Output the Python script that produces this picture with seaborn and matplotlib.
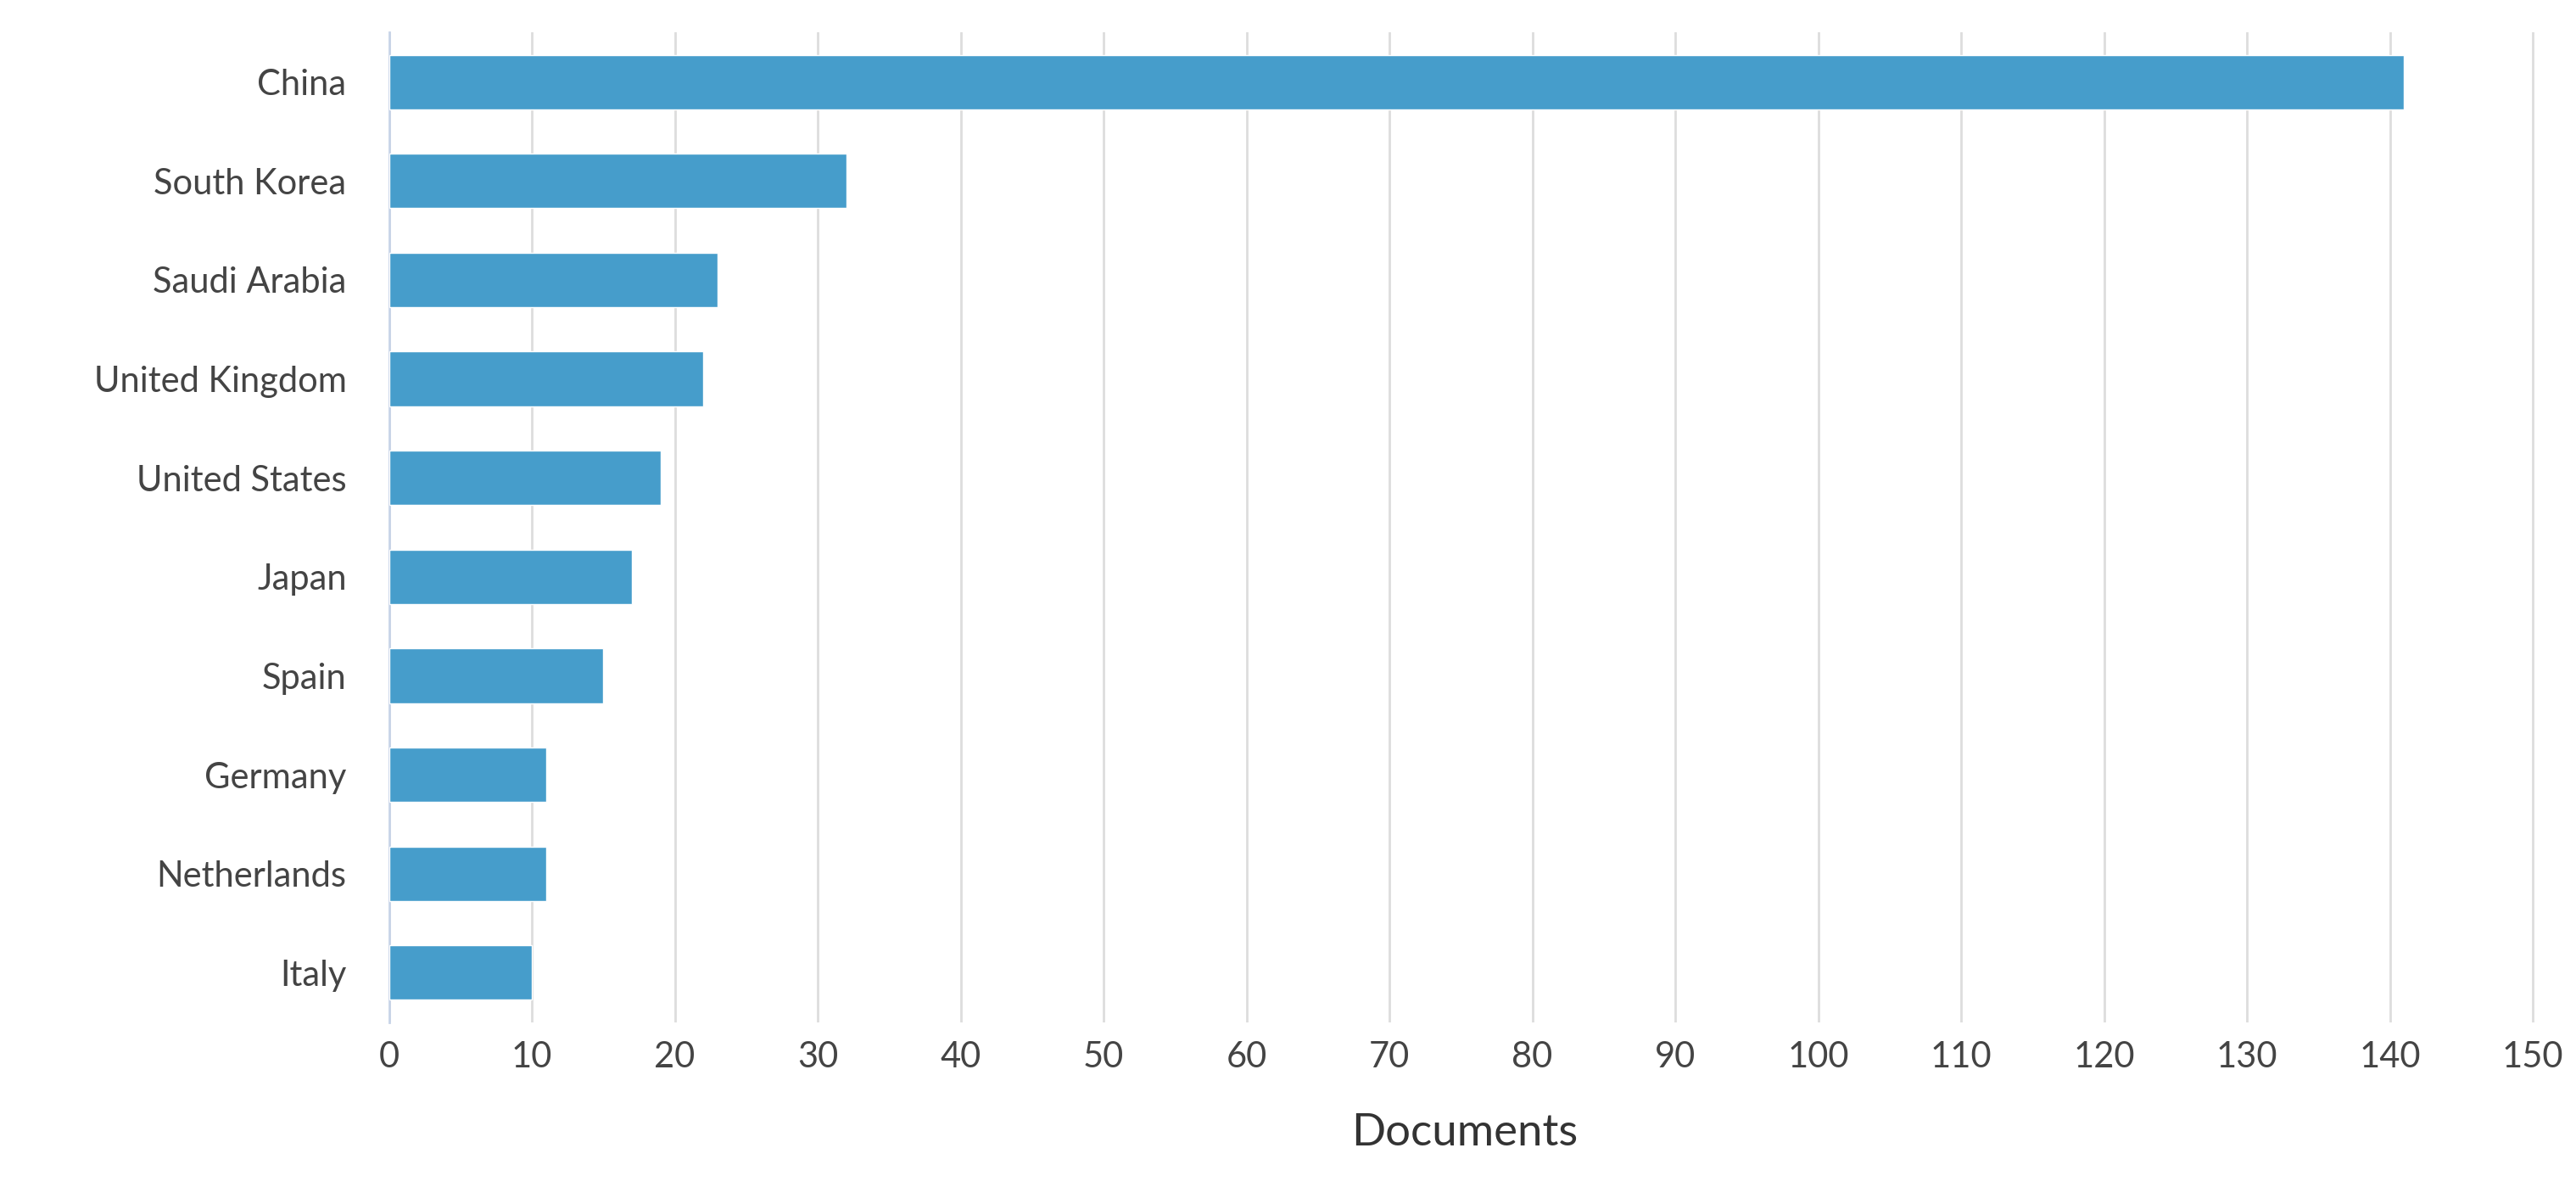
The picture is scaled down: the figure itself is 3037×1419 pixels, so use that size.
import matplotlib
matplotlib.use("Agg")
import matplotlib.pyplot as plt
import seaborn as sns
import pandas as pd

countries = ["China", "South Korea", "Saudi Arabia", "United Kingdom", "United States",
             "Japan", "Spain", "Germany", "Netherlands", "Italy"]
documents = [141, 32, 23, 22, 19, 17, 15, 11, 11, 10]
xticks = list(range(0, 151, 10))

sns.set_theme(style="white")
plt.rcParams['font.family'] = ['Lato', 'DejaVu Sans']

df = pd.DataFrame({"Country": countries, "Documents": documents})
fig = plt.figure(figsize=(30.37, 14.19), dpi=100)
ax = fig.add_axes([0.151, 0.151, 0.835, 0.822])
sns.barplot(data=df, x="Documents", y="Country", color="#469dcb", saturation=1,
            width=0.55, ax=ax, zorder=3)
ax.set_xlim(0, 150.5)
ax.set_xticks(xticks)
ax.grid(axis="x", color="#dddddd", linewidth=2, zorder=0)
for s in ["top", "right", "bottom"]:
    ax.spines[s].set_visible(False)
ax.spines["left"].set_color("#c8d4e8")
ax.spines["left"].set_linewidth(2)
ax.tick_params(axis="x", labelsize=30, colors="#444444", length=0, pad=16)
ax.tick_params(axis="y", labelsize=30, colors="#444444", length=0, pad=36)
ax.set_ylabel("")
ax.set_xlabel("Documents", fontsize=38, color="#333333", labelpad=34)
fig.savefig("out.png", dpi=100)
